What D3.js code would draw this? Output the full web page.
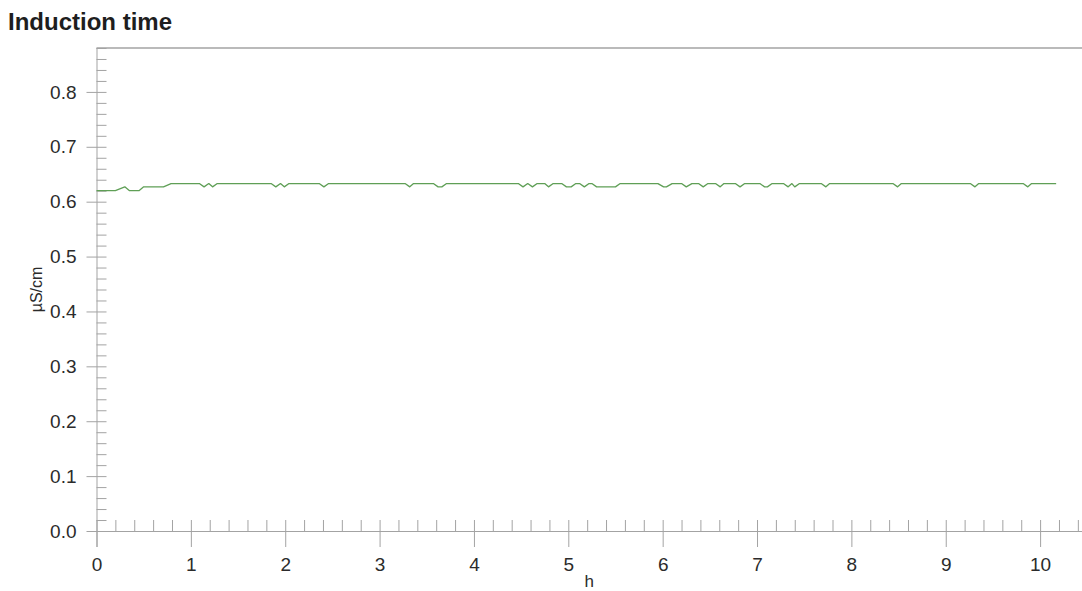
<!DOCTYPE html>
<html>
<head>
<meta charset="utf-8">
<script src="https://cdn.jsdelivr.net/npm/d3@7"></script>
<style>
  html, body { margin: 0; padding: 0; background: #ffffff; }
  svg { display: block; }
  text { font-family: "Liberation Sans", Arial, Helvetica, sans-serif; }
</style>
</head>
<body>
<svg id="chart" width="1082" height="591"></svg>
<script>
// Conductivity trace (µS/cm) against elapsed time (h) — polyline vertices
const hours = [
  0.00, 0.20, 0.30, 0.35, 0.45, 0.50, 0.71, 0.79,
  1.09, 1.14, 1.19, 1.23, 1.28,
  1.85, 1.90, 1.95, 1.99, 2.04,
  2.36, 2.41, 2.46,
  3.27, 3.32, 3.36,
  3.57, 3.62, 3.66, 3.71,
  4.47, 4.52, 4.57, 4.62, 4.67,
  4.75, 4.79, 4.84,
  4.93, 4.98, 5.03, 5.08, 5.12, 5.17, 5.22, 5.25, 5.30, 5.50, 5.55,
  5.95, 6.01, 6.04, 6.10,
  6.20, 6.25, 6.31,
  6.38, 6.43, 6.48,
  6.56, 6.61, 6.65,
  6.77, 6.82, 6.87,
  7.03, 7.08, 7.11, 7.16,
  7.28, 7.33, 7.37, 7.40, 7.45,
  7.68, 7.73, 7.77,
  8.44, 8.49, 8.53,
  9.26, 9.31, 9.35,
  9.82, 9.87, 9.91,
  10.17
];
const conductivity = [
  0.620, 0.620, 0.627, 0.620, 0.620, 0.627, 0.627, 0.633,
  0.633, 0.627, 0.633, 0.627, 0.633,
  0.633, 0.627, 0.633, 0.627, 0.633,
  0.633, 0.627, 0.633,
  0.633, 0.627, 0.633,
  0.633, 0.627, 0.627, 0.633,
  0.633, 0.627, 0.633, 0.627, 0.633,
  0.633, 0.627, 0.633,
  0.633, 0.627, 0.627, 0.633, 0.633, 0.627, 0.633, 0.633, 0.627, 0.627, 0.633,
  0.633, 0.627, 0.627, 0.633,
  0.633, 0.627, 0.633,
  0.633, 0.627, 0.633,
  0.633, 0.627, 0.633,
  0.633, 0.627, 0.633,
  0.633, 0.627, 0.627, 0.633,
  0.633, 0.627, 0.633, 0.627, 0.633,
  0.633, 0.627, 0.633,
  0.633, 0.627, 0.633,
  0.633, 0.627, 0.633,
  0.633, 0.627, 0.633,
  0.633
];

// Axis ticks
const xMajorTicks = [0, 1, 2, 3, 4, 5, 6, 7, 8, 9, 10];
const xMinorStep = 0.2;
const yMajorTicks = [0.0, 0.1, 0.2, 0.3, 0.4, 0.5, 0.6, 0.7, 0.8];
const yMinorStep = 0.02;

const titleText = "Induction time";
const xLabel = "h";
const yLabel = "µS/cm";

const svg = d3.select("#chart");
const W = 1082, H = 591;
const plotLeft = 96.5, plotTop = 48, plotBottom = 531;
const xMax = 10.45, yMax = 0.88;

const x = d3.scaleLinear().domain([0, xMax]).range([plotLeft, plotLeft + 94.36 * xMax]);
const y = d3.scaleLinear().domain([0, yMax]).range([plotBottom, plotTop]);

const axisColor = "#a3a3a3";
const textColor = "#2b2b2b";

svg.append("rect").attr("width", W).attr("height", H).attr("fill", "#ffffff");

// Title
svg.append("text")
  .attr("x", 8).attr("y", 30)
  .attr("font-size", 24).attr("font-weight", "bold")
  .attr("fill", "#1e1e1e")
  .text(titleText);

// Top frame line
svg.append("line")
  .attr("x1", plotLeft).attr("x2", W).attr("y1", plotTop).attr("y2", plotTop)
  .attr("stroke", axisColor).attr("stroke-width", 1.4);

// Minor ticks along the x axis (pointing up into the plot)
const xMinor = d3.range(0, xMax + 1e-9, xMinorStep)
  .map(v => Math.round(v * 10) / 10)
  .filter(v => Math.abs(v - Math.round(v)) > 1e-6);
const xMinorAxis = d3.axisTop(x).tickValues(xMinor).tickSize(11).tickFormat("");
svg.append("g").attr("transform", `translate(0,${plotBottom})`).call(xMinorAxis)
  .call(g => g.select(".domain").remove())
  .call(g => g.selectAll("line").attr("stroke", axisColor));

// Major x axis
const xAxis = d3.axisBottom(x).tickValues(xMajorTicks).tickSize(16).tickPadding(8)
  .tickFormat(d3.format("d"));
const gx = svg.append("g").attr("transform", `translate(0,${plotBottom})`).call(xAxis);
gx.select(".domain").attr("d", `M${plotLeft},0.5H${W}`).attr("stroke", axisColor);
gx.selectAll(".tick line").attr("y1", -11).attr("y2", 16).attr("stroke", axisColor);
gx.selectAll(".tick text")
  .attr("font-size", 19).attr("fill", textColor)
  .attr("dy", null).attr("y", 40);

// Minor ticks along the y axis (pointing right into the plot)
const yMinor = d3.range(0, yMax + 1e-9, yMinorStep)
  .map(v => Math.round(v * 100) / 100)
  .filter(v => Math.abs(v * 10 - Math.round(v * 10)) > 1e-6);
const yMinorAxis = d3.axisRight(y).tickValues(yMinor).tickSize(10).tickFormat("");
svg.append("g").attr("transform", `translate(${plotLeft},0)`).call(yMinorAxis)
  .call(g => g.select(".domain").remove())
  .call(g => g.selectAll("line").attr("stroke", axisColor));

// Major y axis
const yAxis = d3.axisLeft(y).tickValues(yMajorTicks).tickSize(10).tickPadding(10)
  .tickFormat(d3.format(".1f"));
const gy = svg.append("g").attr("transform", `translate(${plotLeft},0)`).call(yAxis);
gy.select(".domain").attr("d", `M0.5,${plotTop}V${plotBottom + 16}`).attr("stroke", axisColor);
gy.selectAll(".tick line").attr("x1", -10).attr("x2", 10).attr("stroke", axisColor);
gy.selectAll(".tick text")
  .attr("font-size", 19).attr("fill", textColor)
  .attr("x", -20);

// Axis titles
svg.append("text")
  .attr("x", (plotLeft + W) / 2).attr("y", 587)
  .attr("text-anchor", "middle")
  .attr("font-size", 17).attr("fill", textColor)
  .text(xLabel);

svg.append("text")
  .attr("transform", `translate(42,${(plotTop + plotBottom) / 2}) rotate(-90)`)
  .attr("text-anchor", "middle")
  .attr("font-size", 16).attr("fill", textColor)
  .text(yLabel);

// Conductivity trace
const points = hours.map((h, i) => [h, conductivity[i]]);
const line = d3.line().x(d => x(d[0])).y(d => y(d[1]));
svg.append("path")
  .datum(points)
  .attr("d", line)
  .attr("fill", "none")
  .attr("stroke", "#5f9f56")
  .attr("stroke-width", 1.3)
  .attr("stroke-linejoin", "round");
</script>
</body>
</html>
